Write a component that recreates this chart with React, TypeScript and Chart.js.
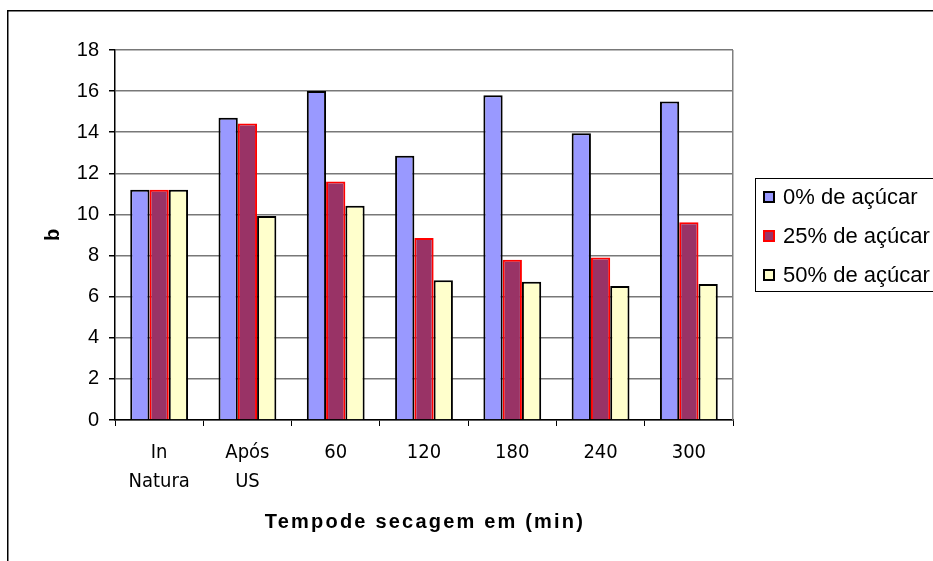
import React, { useEffect, useRef } from "react";
import { Chart, registerables } from "chart.js";

Chart.register(...registerables);

// Drying time categories
const categories: string[][] = [["In", "Natura"], ["Após", "US"], ["60"], ["120"], ["180"], ["240"], ["300"]];

// "b" colour coordinate per sugar concentration
const sugar0 = [11.2, 14.7, 16.0, 12.85, 15.8, 13.95, 15.5];
const sugar25 = [11.2, 14.42, 11.6, 8.85, 7.8, 7.9, 9.62];
const sugar50 = [11.2, 9.92, 10.42, 6.8, 6.72, 6.52, 6.62];

const seriesNames = ["0% de açúcar", "25% de açúcar", "50% de açúcar"];
const fills = ["#9999FF", "#993366", "#FFFFCC"];
const edges = ["#000000", "#FF0000", "#000000"];

const yTicks = [0, 2, 4, 6, 8, 10, 12, 14, 16, 18];

const SANS = "'Liberation Sans', Arial, sans-serif";
const NARROW = "'Liberation Sans Narrow', 'DejaVu Sans Condensed', Arial, sans-serif";

const decorPlugin = {
  id: "decor",
  beforeDraw(chart: any) {
    const ctx = chart.ctx;
    ctx.save();
    ctx.fillStyle = "#ffffff";
    ctx.fillRect(0, 0, chart.width, chart.height);
    ctx.restore();
  },
  afterDraw(chart: any) {
    const ctx = chart.ctx;
    const area = chart.chartArea;
    ctx.save();

    // outer frame
    ctx.strokeStyle = "#000000";
    ctx.lineWidth = 1.5;
    ctx.strokeRect(7.75, 10.75, chart.width + 20, chart.height + 20);

    // plot area right edge
    ctx.strokeStyle = "#808080";
    ctx.lineWidth = 1.5;
    ctx.beginPath();
    ctx.moveTo(area.right - 0.25, area.top);
    ctx.lineTo(area.right - 0.25, area.bottom);
    ctx.stroke();

    // y axis title
    ctx.fillStyle = "#000000";
    ctx.font = `bold 20px ${SANS}`;
    ctx.textAlign = "center";
    ctx.textBaseline = "middle";
    ctx.save();
    ctx.translate(53, (area.top + area.bottom) / 2);
    ctx.rotate(-Math.PI / 2);
    ctx.fillText("b", 0, 0);
    ctx.restore();

    // x axis title
    ctx.font = `bold 20px ${SANS}`;
    (ctx as any).letterSpacing = "2.2px";
    ctx.textAlign = "center";
    ctx.fillText("Tempode secagem em (min)", (area.left + area.right) / 2 + 1, 522);
    (ctx as any).letterSpacing = "0px";

    // legend
    ctx.strokeStyle = "#000000";
    ctx.lineWidth = 1;
    ctx.strokeRect(755.5, 178.5, 200, 113);
    const rows = [197, 236, 275];
    ctx.font = `22px ${SANS}`;
    ctx.textAlign = "left";
    ctx.textBaseline = "middle";
    seriesNames.forEach((name, i) => {
      const y = rows[i];
      ctx.fillStyle = fills[i];
      ctx.fillRect(763, y - 6, 12, 12);
      ctx.strokeStyle = edges[i];
      ctx.lineWidth = 2;
      ctx.strokeRect(764, y - 5, 10, 10);
      ctx.fillStyle = "#000000";
      ctx.fillText(name, 783, y + 1);
    });

    ctx.restore();
  },
};

export default function App() {
  const ref = useRef<HTMLCanvasElement | null>(null);

  useEffect(() => {
    if (!ref.current) return;
    const datasets = [sugar0, sugar25, sugar50].map((data, i) => ({
      label: seriesNames[i],
      data,
      backgroundColor: fills[i],
      borderColor: edges[i],
      borderWidth: 2,
      barPercentage: 1,
      categoryPercentage: 0.655,
    }));

    const chart = new Chart(ref.current, {
      type: "bar",
      data: { labels: categories, datasets },
      options: {
        animation: false,
        responsive: false,
        maintainAspectRatio: false,
        layout: { padding: { left: 0, top: 50, right: 200, bottom: 0 } },
        plugins: {
          legend: { display: false },
          tooltip: { enabled: false },
        },
        scales: {
          x: {
            offset: true,
            afterFit(scale: any) {
              scale.height = 141;
            },
            grid: {
              offset: true,
              drawOnChartArea: false,
              drawTicks: true,
              tickLength: 6,
              tickColor: "#000000",
              lineWidth: 1,
            },
            border: { color: "#000000", width: 1.5 },
            ticks: {
              color: "#000000",
              padding: 12,
              maxRotation: 0,
              autoSkip: false,
              font: { family: NARROW, size: 20, lineHeight: 1.45 },
            },
          },
          y: {
            min: 0,
            max: 18,
            afterFit(scale: any) {
              scale.width = 115;
            },
            afterBuildTicks(scale: any) {
              scale.ticks = yTicks.map((v) => ({ value: v }));
            },
            grid: {
              color: "#787878",
              lineWidth: 1.5,
              tickLength: 6,
              tickColor: "#000000",
              drawTicks: true,
            },
            border: { color: "#000000", width: 1.5 },
            ticks: {
              color: "#000000",
              padding: 10,
              font: { family: SANS, size: 20 },
            },
          },
        },
      },
      plugins: [decorPlugin],
    });

    return () => chart.destroy();
  }, []);

  return (
    <div style={{ position: "absolute", left: 0, top: 0, width: 933, height: 561, overflow: "hidden" }}>
      <canvas ref={ref} width={933} height={561} style={{ display: "block", width: 933, height: 561 }} />
    </div>
  );
}
